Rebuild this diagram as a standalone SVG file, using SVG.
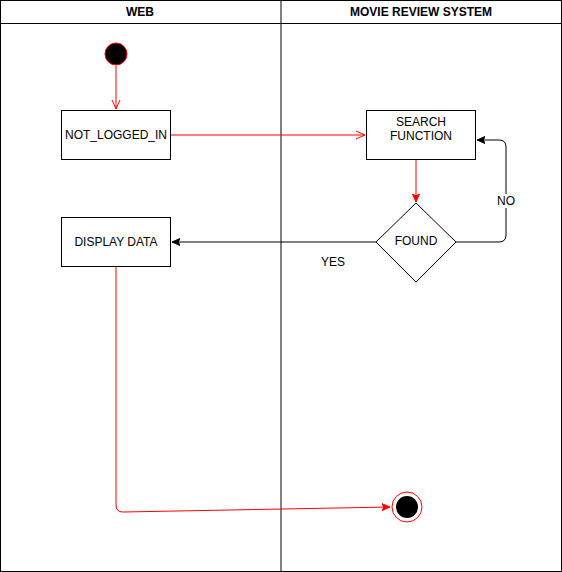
<svg xmlns="http://www.w3.org/2000/svg" width="562" height="572" viewBox="0 0 562 572">
<style>
text{font-family:"Liberation Sans",Arial,sans-serif;font-size:12px;fill:#000;text-anchor:middle}
.hdr{font-weight:bold}
.box{fill:#fff;stroke:#000;stroke-width:1}
.red{fill:none;stroke:#ff0000;stroke-width:1}
.blk{fill:none;stroke:#000;stroke-width:1}
</style>
<defs>
<marker id="open" viewBox="0 0 10 10" refX="9" refY="5" markerWidth="10" markerHeight="10" markerUnits="userSpaceOnUse" orient="auto"><path d="M0,1 L9,5 L0,9" fill="none" stroke="#ff0000" stroke-width="1"/></marker>
<marker id="redblock" viewBox="0 0 10 10" refX="9" refY="5" markerWidth="9" markerHeight="9" markerUnits="userSpaceOnUse" orient="auto"><path d="M0,1 L9,5 L0,9 L2,5 Z" fill="#ff0000" stroke="#ff0000"/></marker>
<marker id="blkblock" viewBox="0 0 10 10" refX="9" refY="5" markerWidth="9" markerHeight="9" markerUnits="userSpaceOnUse" orient="auto"><path d="M0,1 L9,5 L0,9 L2,5 Z" fill="#000" stroke="#000"/></marker>
</defs>
<g id="pool">
<rect x="0.5" y="0.5" width="561" height="571" fill="#fff" stroke="#000"/>
<line x1="0.5" y1="23.5" x2="561.5" y2="23.5" stroke="#000"/>
<line x1="281" y1="0.5" x2="281" y2="571.5" stroke="#000"/>
<text class="hdr" x="140" y="16">WEB</text>
<text class="hdr" x="421" y="16">MOVIE REVIEW SYSTEM</text>
</g>
<g id="connectors">
<line class="red" x1="116" y1="66" x2="116" y2="109" marker-end="url(#open)"/>
<line class="red" x1="171" y1="135" x2="365" y2="135" marker-end="url(#open)"/>
<line class="red" x1="416" y1="160" x2="416" y2="202" marker-end="url(#redblock)"/>
<path class="blk" d="M456,242 H499 Q506,242 506,235 V147 Q506,140 499,140 H477" marker-end="url(#blkblock)"/>
<line class="blk" x1="376" y1="242" x2="172" y2="242" marker-end="url(#blkblock)"/>
<path class="red" d="M116,267 V505 Q116,512 123,512 L390,507" marker-end="url(#redblock)"/>
<rect x="497" y="194" width="18" height="14" fill="#fff"/>
<text x="506" y="205">NO</text>
<text x="333" y="266">YES</text>
</g>
<g id="start">
<circle cx="116" cy="54" r="11" fill="#000" stroke="#ff0000"/>
</g>
<g id="not_logged_in">
<rect class="box" x="61.5" y="110.5" width="109" height="49"/>
<text x="116" y="139">NOT_LOGGED_IN</text>
</g>
<g id="search_function">
<rect class="box" x="366.5" y="110.5" width="109" height="49"/>
<text x="421" y="126">SEARCH</text>
<text x="421" y="140">FUNCTION</text>
</g>
<g id="found">
<polygon points="416,203 456,242 416,282 376,242" fill="#fff" stroke="#000"/>
<text x="416" y="245">FOUND</text>
</g>
<g id="display_data">
<rect class="box" x="61.5" y="217.5" width="109" height="49"/>
<text x="116" y="246">DISPLAY DATA</text>
</g>
<g id="end">
<circle cx="407" cy="507" r="15" fill="#fff" stroke="#ff0000"/>
<circle cx="407" cy="507" r="11" fill="#000"/>
</g>
</svg>
